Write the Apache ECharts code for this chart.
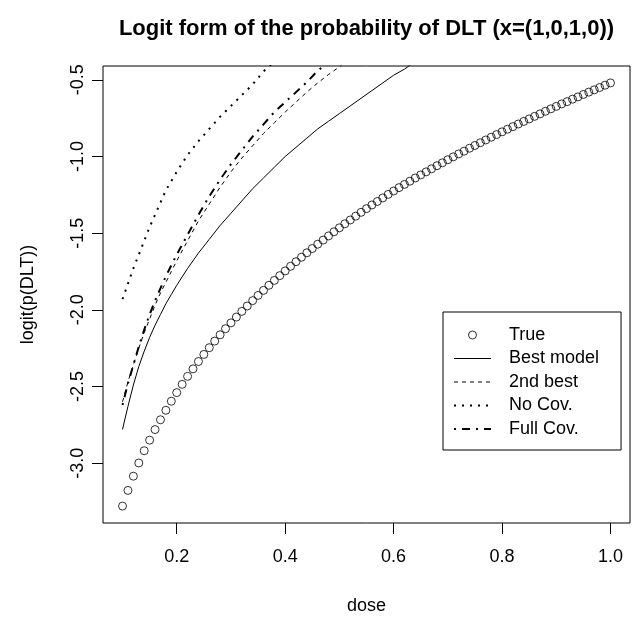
<!DOCTYPE html>
<html>
<head>
<meta charset="utf-8">
<script src="https://cdn.jsdelivr.net/npm/echarts@6/dist/echarts.min.js"></script>
<style>html,body{margin:0;padding:0;background:#fff}#chart{width:633px;height:620px}</style>
</head>
<body>
<div id="chart"></div>
<script>
const doseTrue = [0.10,0.11,0.12,0.13,0.14,0.15,0.16,0.17,0.18,0.19,0.20,0.21,0.22,0.23,0.24,0.25,0.26,0.27,0.28,0.29,0.30,0.31,0.32,0.33,0.34,0.35,0.36,0.37,0.38,0.39,0.40,0.41,0.42,0.43,0.44,0.45,0.46,0.47,0.48,0.49,0.50,0.51,0.52,0.53,0.54,0.55,0.56,0.57,0.58,0.59,0.60,0.61,0.62,0.63,0.64,0.65,0.66,0.67,0.68,0.69,0.70,0.71,0.72,0.73,0.74,0.75,0.76,0.77,0.78,0.79,0.80,0.81,0.82,0.83,0.84,0.85,0.86,0.87,0.88,0.89,0.90,0.91,0.92,0.93,0.94,0.95,0.96,0.97,0.98,0.99,1.00];
const trueLogit = [-3.280,-3.178,-3.085,-2.999,-2.919,-2.850,-2.781,-2.717,-2.655,-2.596,-2.540,-2.486,-2.434,-2.385,-2.337,-2.291,-2.247,-2.204,-2.163,-2.123,-2.085,-2.047,-2.010,-1.975,-1.940,-1.906,-1.873,-1.840,-1.808,-1.777,-1.746,-1.716,-1.686,-1.657,-1.628,-1.600,-1.572,-1.545,-1.518,-1.491,-1.465,-1.439,-1.414,-1.389,-1.364,-1.340,-1.316,-1.293,-1.270,-1.247,-1.225,-1.203,-1.182,-1.161,-1.140,-1.120,-1.100,-1.080,-1.060,-1.041,-1.021,-1.002,-0.983,-0.965,-0.946,-0.928,-0.910,-0.892,-0.874,-0.857,-0.839,-0.822,-0.805,-0.788,-0.771,-0.755,-0.738,-0.722,-0.705,-0.689,-0.673,-0.657,-0.642,-0.626,-0.611,-0.595,-0.580,-0.565,-0.550,-0.535,-0.520];
const doseFit = [0.10,0.11,0.12,0.13,0.14,0.15,0.16,0.17,0.18,0.19,0.20,0.22,0.24,0.26,0.28,0.30,0.32,0.34,0.36,0.38,0.40,0.42,0.44,0.46,0.48,0.50,0.52,0.54,0.56,0.58,0.60,0.62,0.64];
const bestModel = [-2.78,-2.63,-2.49,-2.37,-2.27,-2.18,-2.10,-2.03,-1.96,-1.90,-1.84,-1.73,-1.63,-1.54,-1.45,-1.37,-1.29,-1.21,-1.14,-1.07,-1.00,-0.94,-0.88,-0.82,-0.77,-0.72,-0.67,-0.62,-0.57,-0.52,-0.47,-0.43,-0.38];
const secondBest = [-2.60,-2.47,-2.36,-2.25,-2.15,-2.06,-1.97,-1.89,-1.82,-1.75,-1.68,-1.55,-1.42,-1.31,-1.20,-1.10,-1.01,-0.93,-0.85,-0.78,-0.71,-0.645,-0.58,-0.52,-0.465,-0.415,-0.36];
const noCov = [-1.93,-1.83,-1.73,-1.64,-1.55,-1.46,-1.38,-1.30,-1.22,-1.16,-1.10,-0.99,-0.90,-0.82,-0.74,-0.67,-0.60,-0.53,-0.445,-0.38];
const fullCov = [-2.62,-2.48,-2.36,-2.24,-2.13,-2.03,-1.94,-1.86,-1.78,-1.71,-1.64,-1.51,-1.38,-1.26,-1.15,-1.05,-0.96,-0.87,-0.79,-0.71,-0.645,-0.58,-0.515,-0.44,-0.385,-0.33];
const xTicks = [0.2,0.4,0.6,0.8,1.0];
const yTicks = [-3.0,-2.5,-2.0,-1.5,-1.0,-0.5];
const seriesNames = ['True','Best model','2nd best','No Cov.','Full Cov.'];

const zip = (xs, ys) => ys.map((y, i) => [xs[i], y]);
const font = 'Liberation Sans, Arial, sans-serif';

const styles = {
  best: {color: '#000', width: 1, type: 'solid'},
  second: {color: '#000', width: 1, type: [4, 4]},
  noCov: {color: '#000', width: 2, type: [2, 6]},
  full: {color: '#000', width: 2, type: [2, 6, 8, 6]}
};

const chart = echarts.init(document.getElementById('chart'), null, {renderer: 'canvas'});
chart.setOption({
  animation: false,
  backgroundColor: '#fff',
  title: {
    text: 'Logit form of the probability of DLT (x=(1,0,1,0))',
    left: 366.5, top: 18, textAlign: 'center', padding: 0,
    textStyle: {fontFamily: font, fontSize: 22, fontWeight: 'bold', color: '#000'}
  },
  grid: {left: 103, right: 3, top: 66, bottom: 96, show: true, borderColor: '#000', borderWidth: 1, backgroundColor: 'transparent'},
  xAxis: {
    type: 'value', min: 0.064, max: 1.036,
    name: 'dose', nameLocation: 'middle', nameGap: 74,
    nameTextStyle: {fontFamily: font, fontSize: 18, color: '#000'},
    axisLine: {show: false},
    axisTick: {show: true, length: 11, lineStyle: {color: '#000'}, customValues: xTicks},
    axisLabel: {customValues: xTicks, formatter: v => v.toFixed(1), fontFamily: font, fontSize: 18, color: '#000', margin: 25},
    splitLine: {show: false}
  },
  yAxis: {
    type: 'value', min: -3.3904, max: -0.4096,
    name: 'logit(p(DLT))', nameLocation: 'middle', nameGap: 66,
    nameTextStyle: {fontFamily: font, fontSize: 18, color: '#000'},
    axisLine: {show: false},
    axisTick: {show: true, length: 11, lineStyle: {color: '#000'}, customValues: yTicks},
    axisLabel: {customValues: yTicks, formatter: v => v.toFixed(1), rotate: 90, align: 'center', verticalAlign: 'bottom', fontFamily: font, fontSize: 18, color: '#000', margin: 16},
    splitLine: {show: false}
  },
  legend: {
    orient: 'vertical', left: 443, top: 312,
    padding: [14, 22, 12, 10],
    borderColor: '#000', borderWidth: 1, backgroundColor: '#fff',
    itemWidth: 37, itemHeight: 8, itemGap: 5.5,
    selectedMode: false,
    textStyle: {fontFamily: font, fontSize: 18, color: '#000', lineHeight: 18, padding: [0, 0, 0, 13]},
    data: [
      {name: 'True', itemStyle: {color: 'rgba(0,0,0,0)', borderColor: '#000', borderWidth: 1}},
      {name: 'Best model', itemStyle: {opacity: 0}, lineStyle: styles.best},
      {name: '2nd best', itemStyle: {opacity: 0}, lineStyle: styles.second},
      {name: 'No Cov.', itemStyle: {opacity: 0}, lineStyle: styles.noCov},
      {name: 'Full Cov.', itemStyle: {opacity: 0}, lineStyle: styles.full}
    ]
  },
  series: [
    {name: seriesNames[0], type: 'scatter', data: zip(doseTrue, trueLogit), symbol: 'circle', symbolSize: 8,
      itemStyle: {color: 'rgba(0,0,0,0)', borderColor: '#000', borderWidth: 1}},
    {name: seriesNames[1], type: 'line', data: zip(doseFit, bestModel), symbol: 'none', clip: true, lineStyle: styles.best},
    {name: seriesNames[2], type: 'line', data: zip(doseFit, secondBest), symbol: 'none', clip: true, lineStyle: styles.second},
    {name: seriesNames[3], type: 'line', data: zip(doseFit, noCov), symbol: 'none', clip: true, lineStyle: styles.noCov},
    {name: seriesNames[4], type: 'line', data: zip(doseFit, fullCov), symbol: 'none', clip: true, lineStyle: styles.full}
  ]
});
</script>
</body>
</html>
